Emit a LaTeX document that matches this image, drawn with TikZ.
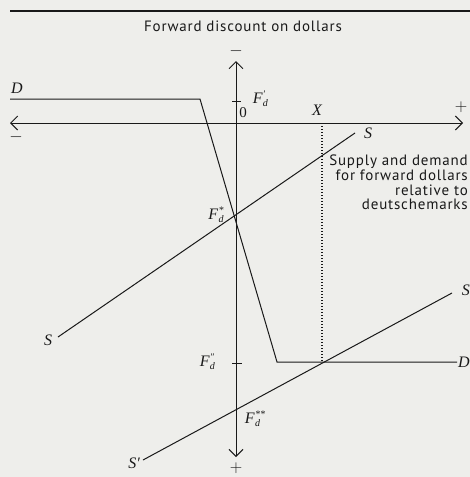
\documentclass[tikz,border=0pt]{standalone}
\usepackage{fontspec}
\newfontfamily\sansf[LetterSpace=5.5]{PT Sans}
\newfontfamily\lser{Liberation Serif}
\usetikzlibrary{arrows.meta}
\definecolor{paper}{RGB}{238,238,235}
\definecolor{ink}{RGB}{25,25,25}
\newcommand\smallidx[1]{{\fontsize{10}{10}\selectfont #1}}
\newcommand\Fdx[1]{F\kern0.3pt\makebox[0pt][l]{\raisebox{-3.5pt}{\smallidx{d}}}\raisebox{5.5pt}{\smallidx{#1}}\hspace{4pt}}
\begin{document}
\begin{tikzpicture}[x=1pt,y=-1pt,
  ax/.style={line width=1pt, draw=ink, {Straight Barb[length=7pt,width=14pt]}-{Straight Barb[length=7pt,width=14pt]}},
  ln/.style={line width=1pt, draw=ink},
  dots/.style={line width=1.3pt, draw=ink, dash pattern=on 1.1pt off 1.9pt},
  lab/.style={font=\lser\itshape\fontsize{16}{18}\selectfont, inner sep=0pt, text=ink},
  sgn/.style={font=\fontsize{16}{17}\selectfont, inner sep=0pt, text=ink},
  txt/.style={font=\sansf\fontsize{15}{14.7}\selectfont, inner sep=0pt, text=ink}]
\useasboundingbox (0,0) rectangle (470,477);
\fill[paper] (0,0) rectangle (470,477);
% top rule and title
\coordinate (ruleL) at (10,11);
\coordinate (ruleR) at (470,11);
\draw[line width=1.2pt, draw=ink] (ruleL) -- (ruleR);
\node[txt] (title) at (243,26) {Forward discount on dollars};
% axes
\coordinate (vt) at (236,61);
\coordinate (vb) at (236,457);
\coordinate (hl) at (10,123);
\coordinate (hr) at (463,123);
\draw[ax] (vb) -- (vt);
\draw[ax] (hl) -- (hr);
\node[sgn] (vminus) at (236,51) {$-$};
\node[sgn] (vplus) at (236,468) {$+$};
\node[sgn] (hminus) at (16,137) {$-$};
\node[sgn] (hplus) at (461,107) {$+$};
\node[lab, font=\lser\fontsize{15}{17}\selectfont] (zero) at (243,113) {0};
% ticks
\coordinate (t1a) at (232,101); \coordinate (t1b) at (241,101);
\coordinate (t2a) at (232,363); \coordinate (t2b) at (242,363);
\draw[ln] (t1a) -- (t1b);
\draw[ln] (t2a) -- (t2b);
\node[lab] (Fp) at (259,99) {\Fdx{′}};
\node[lab] (Fs) at (216,215) {\Fdx{*}};
\node[lab] (Fpp) at (207,362) {\Fdx{″}};
\node[lab] (Fss) at (255,419) {\Fdx{**}};
% demand curve D
\coordinate (D1) at (10,99);
\coordinate (D2) at (200,99);
\coordinate (D3) at (277,362);
\coordinate (D4) at (457,362);
\draw[ln] (D1) -- (D2) -- (D3) -- (D4);
\node[lab] (Dl) at (17,88) {D};
\node[lab,anchor=east] (Dr) at (470,362) {D};
% supply S
\coordinate (S1) at (58,337);
\coordinate (S2) at (355,133);
\draw[ln] (S1) -- (S2);
\node[lab] (Sl) at (48,340) {S};
\node[lab] (Sr) at (368,133) {S};
% supply S'
\coordinate (Sp1) at (143,460);
\coordinate (Sp2) at (452,293);
\draw[ln] (Sp1) -- (Sp2);
\node[lab] (Spl) at (134,463) {S′};
\node[lab,anchor=east] (Spr) at (470,290) {S};
% X and dotted line
\node[lab] (X) at (317,110) {X};
\coordinate (Xt) at (322,126);
\coordinate (Xb) at (322,362);
\draw[dots] (Xt) -- (Xb);
% text
\node[txt, align=right, anchor=north east] (note) at (468,155)
  {Supply and demand\\for forward dollars\\relative to\\deutschemarks};
\end{tikzpicture}
\end{document}
